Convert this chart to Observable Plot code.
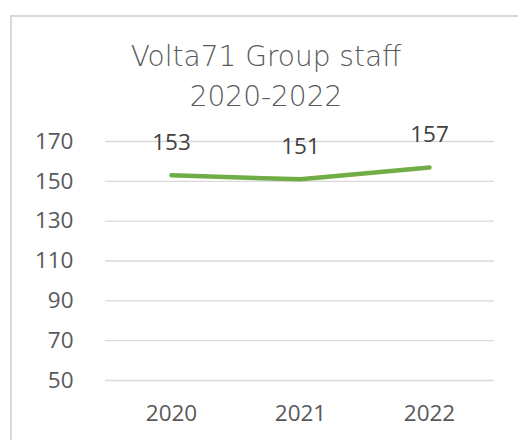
<!DOCTYPE html>
<html>
<head>
<meta charset="utf-8">
<script src="https://cdn.jsdelivr.net/npm/d3@7"></script>
<script src="https://cdn.jsdelivr.net/npm/@observablehq/plot@0.6"></script>
<style>
  html, body { margin: 0; padding: 0; background: #fff; overflow: hidden; width: 518px; height: 440px; }
  #frame { position: absolute; left: 10px; top: 15px; width: 700px; height: 600px; border-left: 2px solid #d9d9d9; border-top: 2px solid #d9d9d9; box-sizing: border-box; }
  #wrap { position: absolute; left: 0; top: 0; width: 518px; }
  #title { margin: 37px 0 0 0; height: 80px; width: 518px; text-align: center; padding-left: 14px; box-sizing: border-box;
           font-family: "DejaVu Sans", sans-serif; font-weight: 200; font-size: 28px; line-height: 40px; color: #595959; }
  svg { display: block; }
</style>
</head>
<body>
<div id="frame"></div>
<div id="wrap">
  <div id="title">Volta71 Group staff<br>2020-2022</div>
  <div id="chart"></div>
</div>
<script>
const years = ["2020", "2021", "2022"];
const staff = [153, 151, 157];
const yTicks = [50, 70, 90, 110, 130, 150, 170];

const data = years.map((year, i) => ({year, staff: staff[i]}));

const chart = Plot.plot({
  width: 518,
  height: 323,
  marginTop: 24,
  marginBottom: 60,
  marginLeft: 105,
  marginRight: 24,
  style: {fontFamily: "'Open Sans', sans-serif", fontSize: "22.5px", color: "#595959", background: "transparent"},
  x: {type: "point", domain: years, padding: 0.5, label: null},
  y: {domain: [50, 170], label: null},
  marks: [
    Plot.ruleY(yTicks, {stroke: "#d9d9d9", strokeWidth: 1.3}),
    Plot.axisY({ticks: yTicks, tickSize: 0, tickPadding: 32, label: null}),
    Plot.axisX({tickSize: 0, tickPadding: 25, label: null}),
    Plot.line(data, {x: "year", y: "staff", stroke: "#70AD47", strokeWidth: 4.5, strokeLinecap: "round", strokeLinejoin: "round"}),
    Plot.text(data, {x: "year", y: "staff", text: d => String(d.staff), dy: -33, fill: "#404040", fontSize: 22.5})
  ]
});
document.getElementById("chart").appendChild(chart);
</script>
</body>
</html>
